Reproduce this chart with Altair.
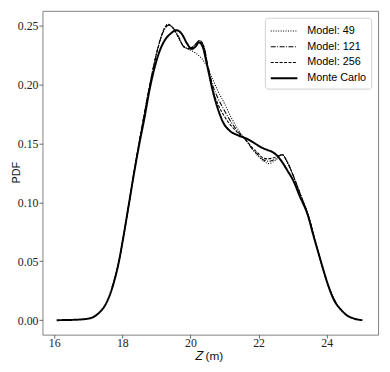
import altair as alt
import pandas as pd

# ---- data ----
series_names = ["Model: 49", "Model: 121", "Model: 256", "Monte Carlo"]

mc_z = [16.07, 16.5, 17.0, 17.3, 17.5, 17.73, 17.9, 18.02, 18.2, 18.35, 18.5, 18.65,
        18.8, 18.95, 19.1, 19.25, 19.4, 19.59, 19.75, 19.9, 20.04, 20.15, 20.25, 20.35,
        20.5, 20.67, 20.8, 20.96, 21.15, 21.4, 21.68, 21.9, 22.1, 22.26, 22.4, 22.5,
        22.7, 22.85, 23.03, 23.2, 23.46, 23.6, 23.75, 23.9, 24.04, 24.2, 24.42, 24.6,
        24.81, 25.05]
mc_pdf = [0.0, 0.0002, 0.0013, 0.0058, 0.013, 0.030, 0.050, 0.069, 0.100, 0.126, 0.150, 0.172,
          0.196, 0.215, 0.229, 0.238, 0.243, 0.2463, 0.243, 0.235, 0.2304, 0.2325, 0.236, 0.233,
          0.215, 0.193, 0.180, 0.168, 0.161, 0.157, 0.1538, 0.150, 0.1465, 0.1446, 0.143, 0.141,
          0.134, 0.127, 0.118, 0.106, 0.088, 0.073, 0.058, 0.043, 0.030, 0.018, 0.0089, 0.004,
          0.0013, 0.0]

m49_z = [17.7, 17.9, 18.02, 18.2, 18.35, 18.5, 18.65, 18.8, 18.95, 19.1, 19.22, 19.34,
         19.5, 19.65, 19.8, 19.88, 20.46, 20.65, 20.8, 21.0, 21.2, 21.4, 21.63, 21.8,
         22.0, 22.15, 22.3, 22.5, 22.69, 22.85, 23.03, 23.2, 23.46, 23.75, 24.04, 24.3]
m49_pdf = [0.028, 0.050, 0.069, 0.100, 0.127, 0.152, 0.176, 0.199, 0.220, 0.237, 0.247, 0.2515,
           0.247, 0.240, 0.2325, 0.2313, 0.217, 0.205, 0.195, 0.184, 0.172, 0.162, 0.153, 0.146,
           0.139, 0.135, 0.133, 0.136, 0.1405, 0.134, 0.122, 0.109, 0.089, 0.058, 0.030, 0.013]

m121_z = [17.7, 17.9, 18.02, 18.2, 18.35, 18.5, 18.65, 18.8, 18.95, 19.1, 19.22, 19.36,
          19.5, 19.65, 19.8, 19.97, 20.1, 20.27, 20.4, 20.5, 20.65, 20.8, 21.0, 21.2,
          21.4, 21.63, 21.8, 22.0, 22.15, 22.3, 22.5, 22.69, 22.85, 23.03, 23.2, 23.46,
          23.75, 24.04, 24.3]
m121_pdf = [0.028, 0.050, 0.069, 0.100, 0.127, 0.152, 0.176, 0.199, 0.220, 0.237, 0.246, 0.2505,
            0.248, 0.241, 0.2325, 0.2305, 0.233, 0.2375, 0.232, 0.218, 0.200, 0.189, 0.178, 0.168,
            0.160, 0.153, 0.146, 0.140, 0.136, 0.135, 0.137, 0.1407, 0.134, 0.122, 0.109, 0.089,
            0.058, 0.030, 0.013]

m256_z = [17.7, 17.9, 18.02, 18.2, 18.35, 18.5, 18.65, 18.8, 18.95, 19.1, 19.22, 19.34,
          19.5, 19.65, 19.8, 19.95, 20.1, 20.27, 20.4, 20.5, 20.65, 20.8, 21.0, 21.2,
          21.4, 21.63, 21.8, 22.0, 22.12, 22.25, 22.45, 22.69, 22.85, 23.03, 23.2, 23.46,
          23.75, 24.04, 24.3]
m256_pdf = [0.028, 0.050, 0.069, 0.100, 0.127, 0.152, 0.176, 0.199, 0.220, 0.237, 0.247, 0.2513,
            0.248, 0.240, 0.2325, 0.2305, 0.233, 0.2375, 0.232, 0.216, 0.196, 0.184, 0.173, 0.165,
            0.159, 0.153, 0.147, 0.1415, 0.138, 0.137, 0.138, 0.1405, 0.134, 0.122, 0.109, 0.089,
            0.058, 0.030, 0.013]

x_ticks = [16, 18, 20, 22, 24]
y_ticks = [0.0, 0.05, 0.10, 0.15, 0.20, 0.25]

rows = []
for name, zs, ps in [("Model: 49", m49_z, m49_pdf),
                     ("Model: 121", m121_z, m121_pdf),
                     ("Model: 256", m256_z, m256_pdf),
                     ("Monte Carlo", mc_z, mc_pdf)]:
    for z, p in zip(zs, ps):
        rows.append({"z": z, "pdf": p, "series": name})
df = pd.DataFrame(rows)

legend = alt.Legend(
    title=None, orient="top-right", offset=7, padding=5, rowPadding=2,
    symbolType="M-1,0H2.6", symbolSize=225, symbolStrokeColor="black",
    labelOffset=21, labelFont="Liberation Sans", labelFontSize=11, labelColor="black",
    strokeColor="#d0d0d0", cornerRadius=3, fillColor="white",
)

chart = alt.Chart(df).mark_line(interpolate="monotone", color="black").encode(
    x=alt.X("z:Q",
            scale=alt.Scale(domain=[15.653, 25.51], nice=False, zero=False),
            axis=alt.Axis(values=x_ticks, format="d", title="𝑍 (m)",
                          titleX=169, titleY=21, titleBaseline="middle", titleAlign="center")),
    y=alt.Y("pdf:Q",
            scale=alt.Scale(domain=[-0.0123, 0.2628], nice=False, zero=False),
            axis=alt.Axis(values=y_ticks, format=".2f", title="PDF",
                          titleX=-26, titleY=164, titleBaseline="middle", titleAlign="center",
                          titleAngle=-90, labelPadding=1)),
    strokeDash=alt.StrokeDash("series:N",
                              scale=alt.Scale(domain=series_names,
                                              range=[[1, 1.5], [5, 1.5, 1, 1.5], [3, 1.5], [1, 0]]),
                              legend=legend),
    strokeWidth=alt.StrokeWidth("series:N",
                                scale=alt.Scale(type="ordinal", domain=series_names,
                                                range=[1.1, 1.1, 1.1, 2.0]),
                                legend=legend),
    order=alt.Order("series:N"),
).properties(
    width=341, height=329,
    autosize=alt.AutoSizeParams(type="none"),
    padding={"left": 35, "top": 0, "right": 4, "bottom": 30},
).configure_view(
    stroke="#808080", strokeWidth=1
).configure_axis(
    grid=False, domain=False, tickSize=3.5, tickColor="#444", tickWidth=0.8,
    labelFont="Liberation Serif", labelFontSize=12, labelColor="#222", labelPadding=0,
    titleFont="Liberation Sans", titleFontSize=12, titleColor="#111", titleFontWeight="normal",
).configure_axisY(
    titleFontSize=11
)

chart.save("out.html", embed_options={"renderer": "svg", "actions": False})
